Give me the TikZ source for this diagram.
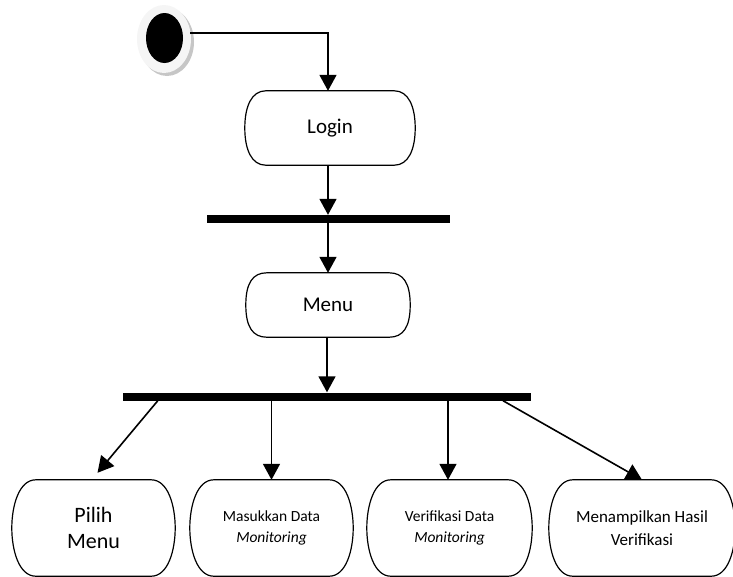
\documentclass[tikz,border=0pt]{standalone}
\usepackage{fontspec}
\setmainfont{Carlito}
\usetikzlibrary{arrows.meta,shapes.geometric}

\tikzset{
	flow/.style={line width=1.6pt,-{Triangle[width=17pt,length=16pt]}},
	actnode/.style={align=center,inner sep=0pt,font=\fontsize{21}{25}\selectfont},
	smalltext/.style={font=\fontsize{15.5}{21}\selectfont},
	forkbar/.style={fill=black,inner sep=0pt,minimum height=8pt}
}
% outline of an activity box: flat top and bottom, bulging sides
\def\actoutline#1#2{\draw[line width=1.2pt]
	([xshift=#2]#1.north west) -- ([xshift=-#2]#1.north east)
	.. controls ([xshift=-7pt]#1.north east) and ([yshift=22pt]#1.east) .. (#1.east)
	.. controls ([yshift=-22pt]#1.east) and ([xshift=-7pt]#1.south east) .. ([xshift=-#2]#1.south east)
	-- ([xshift=#2]#1.south west)
	.. controls ([xshift=7pt]#1.south west) and ([yshift=-22pt]#1.west) .. (#1.west)
	.. controls ([yshift=22pt]#1.west) and ([xshift=7pt]#1.north west) .. cycle;}

\begin{document}
\begin{tikzpicture}[x=1pt,y=-1pt]
	%%%%% START %%%%%
	\useasboundingbox (0,0) rectangle (733,576);
	\clip (0,0) rectangle (733,576);
	\def\boxy{528}
	\def\boxh{96}
	
	% start point with its shadow
	\fill[gray!45] (167,42) ellipse (27 and 34);
	\fill[gray!8] (164,39) ellipse (27 and 34);
	\node[ellipse,fill=black,inner sep=0pt,minimum width=37pt,minimum height=50pt] (start) at (164.5,38) {};
	
	\node[actnode,minimum width=170pt,minimum height=74pt] (login) at (330,128) {Login};
	\actoutline{login}{21pt}
	\node[forkbar,minimum width=243pt] (forkone) at (328.5,219) {};
	\node[actnode,minimum width=164pt,minimum height=64pt] (menu) at (328,305) {Menu};
	\actoutline{menu}{21pt}
	\node[forkbar,minimum width=408pt] (forktwo) at (327,396.5) {};
	
	\node[actnode,font=\fontsize{22}{26}\selectfont,minimum width=163pt,minimum height=\boxh] (pilih) at (93.5,\boxy) {Pilih\\Menu};
	\node[actnode,smalltext,minimum width=163pt,minimum height=\boxh] (masuk) at (271.5,\boxy) {Masukkan Data\\\textit{Monitoring}};
	\node[actnode,smalltext,minimum width=165pt,minimum height=\boxh] (verif) at (449.5,\boxy) {Verifikasi Data\\\textit{Monitoring}};
	\node[actnode,font=\fontsize{17}{23}\selectfont,minimum width=186pt,minimum height=\boxh] (hasil) at (642,\boxy) {Menampilkan Hasil\\Verifikasi};
	\foreach \b in {pilih,masuk,verif,hasil} {\actoutline{\b}{24pt}}
	
	\draw[flow] ([xshift=7pt,yshift=5pt]start.east) -| ([xshift=-2pt]login.north);
	\draw[flow] ([xshift=-2pt]login.south) -- ([xshift=-2pt]login.south |- forkone.north);
	\draw[flow] (menu.north |- forkone.south) -- (menu.north);
	\draw[flow] ([xshift=-1pt]menu.south) -- ([xshift=-1pt]menu.south |- forktwo.north);
	\draw[flow] ([xshift=35pt]forktwo.south west) -- ([xshift=4pt,yshift=7pt]pilih.north);
	\draw[flow] (masuk.north |- forktwo.south) -- (masuk.north);
	\draw[flow] ([xshift=-1.5pt]verif.north |- forktwo.south) -- ([xshift=-1.5pt]verif.north);
	\draw[flow] ([xshift=176pt]forktwo.south) -- (hasil.north);
	%%%%% END %%%%%
\end{tikzpicture}
\end{document}
